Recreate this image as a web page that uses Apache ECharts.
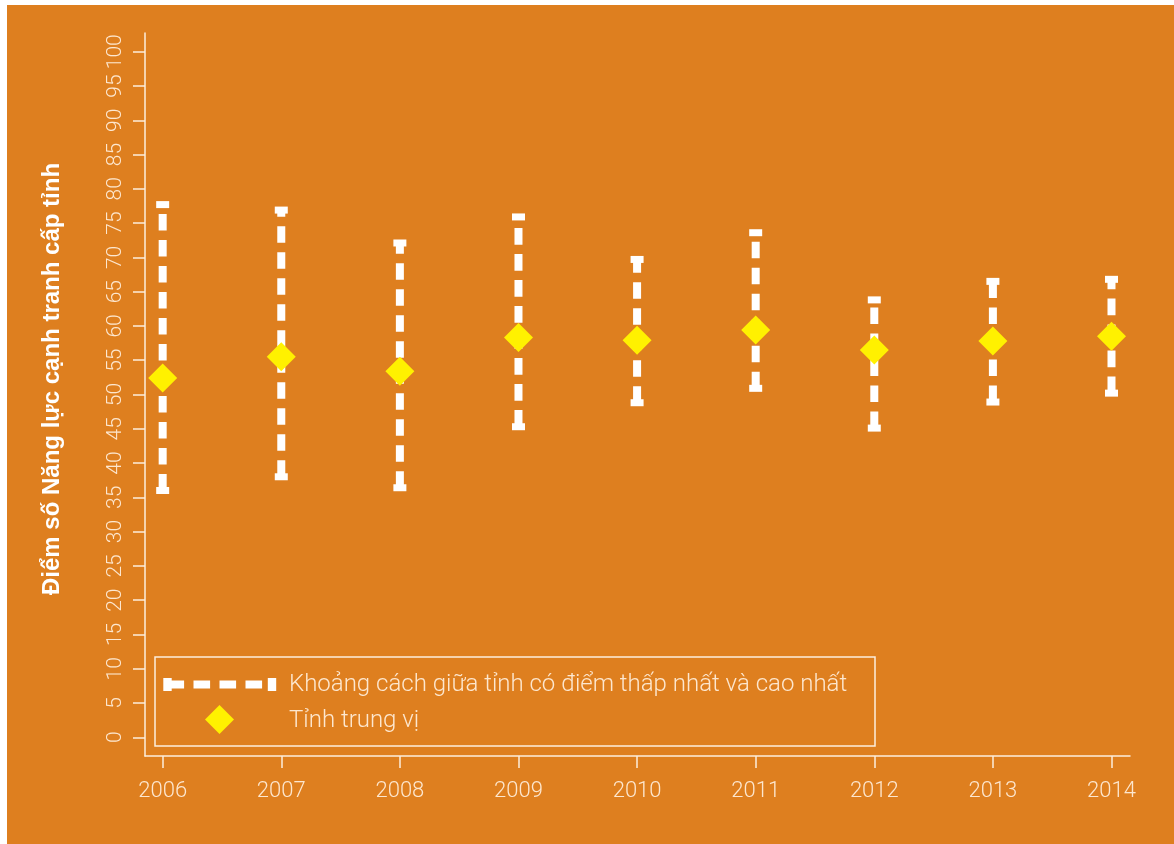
<!DOCTYPE html>
<html>
<head>
<meta charset="utf-8">
<script src="https://cdn.jsdelivr.net/npm/echarts@6/dist/echarts.min.js"></script>
<style>
  html, body { margin: 0; padding: 0; background: #ffffff; }
  #wrap { position: relative; width: 1174px; height: 844px; overflow: hidden; }
  #bg { position: absolute; left: 7px; top: 5px; right: 0; bottom: 0; background: #de7f1f; }
  #chart { position: absolute; left: 0; top: 0; width: 1174px; height: 844px; }
</style>
</head>
<body>
<div id="wrap"><div id="bg"></div><div id="chart"></div></div>
<script>
// ---- data ----
const years = [2006, 2007, 2008, 2009, 2010, 2011, 2012, 2013, 2014];
const lowScores = [36.0, 38.0, 36.4, 45.3, 48.8, 50.9, 45.1, 48.9, 50.2];
const highScores = [77.7, 76.9, 72.1, 75.9, 69.7, 73.6, 63.8, 66.5, 66.8];
const medianScores = [52.4, 55.5, 53.4, 58.3, 57.9, 59.4, 56.5, 57.8, 58.5];
const yTicks = [0, 5, 10, 15, 20, 25, 30, 35, 40, 45, 50, 55, 60, 65, 70, 75, 80, 85, 90, 95, 100];
const yAxisTitle = 'Điểm số Năng lực cạnh tranh cấp tỉnh';
const rangeLabel = 'Khoảng cách giữa tỉnh có điểm thấp nhất và cao nhất';
const medianLabel = 'Tỉnh trung vị';

// ---- styling ----
const cream = '#fde7cf';
const lineCream = '#fdeedd';
const yellow = '#fff100';
const fontLight = 'Roboto';

const rangeData = years.map((y, i) => [y, lowScores[i], highScores[i]]);
const medianData = years.map((y, i) => [y, medianScores[i]]);

const chart = echarts.init(document.getElementById('chart'), null, { renderer: 'canvas' });

function dashedRange(params, api) {
  const x = api.value(0);
  const lo = api.coord([x, api.value(1)]);
  const hi = api.coord([x, api.value(2)]);
  return {
    type: 'group',
    children: [
      { type: 'line', shape: { x1: lo[0], y1: lo[1], x2: hi[0], y2: hi[1] },
        style: { stroke: '#ffffff', lineWidth: 8, lineDash: [16.6, 9.4], lineCap: 'butt' } },
      { type: 'rect', shape: { x: hi[0] - 6.5, y: hi[1] - 3.5, width: 13, height: 7 }, style: { fill: '#ffffff' } },
      { type: 'rect', shape: { x: lo[0] - 6.5, y: lo[1] - 3.5, width: 13, height: 7 }, style: { fill: '#ffffff' } }
    ]
  };
}

const option = {
  backgroundColor: 'transparent',
  animation: false,
  grid: { left: 145, right: 44, top: 33, bottom: 88, containLabel: false },
  xAxis: {
    type: 'value',
    min: 2005.851,
    max: 2014.156,
    splitLine: { show: false },
    axisLine: { show: true, onZero: false, lineStyle: { color: lineCream, width: 1.5 } },
    axisTick: { show: true, length: 12, lineStyle: { color: lineCream, width: 1.5 }, customValues: years },
    axisLabel: { show: true, customValues: years, color: cream, fontFamily: fontLight, fontWeight: 300,
                 fontSize: 22, margin: 24, formatter: v => String(v) }
  },
  yAxis: {
    type: 'value',
    min: -2.73,
    max: 102.73,
    splitLine: { show: false },
    axisLine: { show: true, onZero: false, lineStyle: { color: lineCream, width: 1.5 } },
    axisTick: { show: true, length: 12, lineStyle: { color: lineCream, width: 1.5 }, customValues: yTicks },
    axisLabel: { show: true, customValues: yTicks, rotate: 90, color: cream, fontFamily: fontLight, fontWeight: 300,
                 fontSize: 21, margin: 19, formatter: v => String(v) }
  },
  series: [
    {
      type: 'custom',
      name: rangeLabel,
      data: rangeData,
      renderItem: dashedRange,
      clip: false,
      z: 2
    },
    {
      type: 'scatter',
      name: medianLabel,
      data: medianData,
      symbol: 'diamond',
      symbolSize: [29, 29],
      itemStyle: { color: yellow, opacity: 1 },
      z: 5
    }
  ],
  graphic: [
    { type: 'text', x: 52, y: 379, rotation: Math.PI / 2, z: 10,
      style: { text: yAxisTitle, fill: '#ffffff', font: 'bold 24px "Liberation Sans"', align: 'center', verticalAlign: 'middle' } },
    { type: 'rect', shape: { x: 155, y: 657, width: 720, height: 89 },
      style: { fill: 'none', stroke: lineCream, lineWidth: 1.5 }, z: 10 },
    { type: 'line', shape: { x1: 167.5, y1: 684.5, x2: 272, y2: 684.5 },
      style: { stroke: '#ffffff', lineWidth: 8, lineDash: [16.6, 9.4], lineCap: 'butt' }, z: 10 },
    { type: 'rect', shape: { x: 163.3, y: 678, width: 8.4, height: 13 }, style: { fill: '#ffffff' }, z: 10 },
    { type: 'rect', shape: { x: 267.8, y: 678, width: 8.4, height: 13 }, style: { fill: '#ffffff' }, z: 10 },
    { type: 'polygon', shape: { points: [[219.5, 705], [234, 719.5], [219.5, 734], [205, 719.5]] },
      style: { fill: yellow }, z: 10 },
    { type: 'text', x: 289, y: 685, z: 10,
      style: { text: rangeLabel, fill: cream, font: '300 24px Roboto', verticalAlign: 'middle' } },
    { type: 'text', x: 289, y: 721, z: 10,
      style: { text: medianLabel, fill: cream, font: '300 24px Roboto', verticalAlign: 'middle' } }
  ]
};

chart.setOption(option);
</script>
</body>
</html>
